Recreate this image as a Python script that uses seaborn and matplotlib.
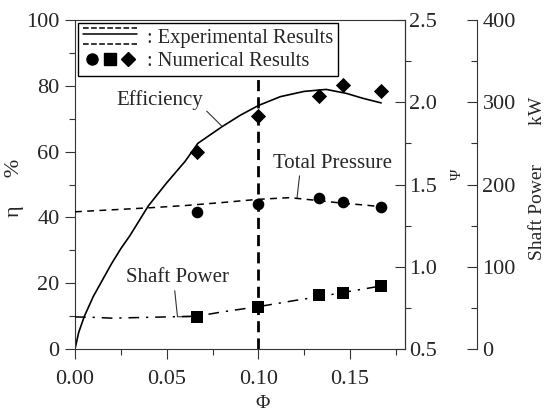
import numpy as np
import matplotlib
matplotlib.use("Agg")
import matplotlib.pyplot as plt
import seaborn as sns
from matplotlib.ticker import MultipleLocator, FormatStrFormatter
from matplotlib.legend_handler import HandlerBase, HandlerTuple
from matplotlib.lines import Line2D

# Experimental curves
phi_eff = [0.000, 0.002, 0.005, 0.010, 0.015, 0.020, 0.025, 0.030, 0.040, 0.050,
           0.060, 0.067, 0.080, 0.090, 0.100, 0.112, 0.125, 0.137, 0.148, 0.157, 0.167]
eff_exp = [0.0, 5.0, 9.8, 16.0, 21.0, 26.0, 30.5, 34.5, 43.5, 50.5,
           57.0, 62.5, 67.5, 71.0, 74.0, 76.7, 78.3, 78.9, 77.7, 76.2, 74.8]

phi_psi = [0.000, 0.020, 0.040, 0.060, 0.080, 0.100, 0.117, 0.133, 0.146, 0.157, 0.168]
psi_exp = [1.334, 1.346, 1.358, 1.372, 1.390, 1.410, 1.420, 1.402, 1.386, 1.376, 1.364]

phi_pow = [0.000, 0.010, 0.020, 0.030, 0.050, 0.067, 0.080, 0.100, 0.120, 0.133, 0.147, 0.168]
pow_exp = [39.0, 38.5, 37.5, 38.0, 39.0, 40.0, 45.0, 51.5, 59.0, 63.5, 69.0, 77.0]

# Numerical results
phi_num = [0.0667, 0.1000, 0.1333, 0.1460, 0.1667]
eff_num = [60.0, 70.8, 76.9, 80.2, 78.5]
psi_num = [1.334, 1.382, 1.420, 1.396, 1.365]
pow_num = [39.0, 51.5, 66.0, 68.5, 76.5]

design_phi = 0.10

sns.set_style("ticks")
plt.rcParams['font.family'] = ['Liberation Serif', 'DejaVu Serif']
plt.rcParams['axes.linewidth'] = 0.8


class LineStack:
    def __init__(self, lines):
        self.lines = lines


class StackedLines(HandlerBase):
    # draws the three experimental line styles stacked in one legend slot
    def create_artists(self, legend, orig_handle, xdescent, ydescent,
                       width, height, fontsize, trans):
        arts = []
        fracs = [1.0, 0.6, -0.1]
        for ln, f in zip(orig_handle.lines, fracs):
            y = -ydescent + height * f
            a = Line2D([-xdescent, -xdescent + width], [y, y],
                       color=ln.get_color(), lw=ln.get_linewidth(),
                       linestyle=ln.get_linestyle())
            a.set_transform(trans)
            arts.append(a)
        return arts


fig = plt.figure(figsize=(5.46, 4.17), dpi=100)
ax = fig.add_axes([75 / 546, 68 / 417, 330 / 546, 329 / 417])
ax2 = ax.twinx()
ax3 = ax.twinx()
ax3.spines['right'].set_position(('axes', 1.218))
for a in (ax2, ax3):
    for s in ('left', 'top', 'bottom'):
        a.spines[s].set_visible(False)
ax3.spines['right'].set_visible(True)

# experimental curves
sns.lineplot(x=phi_eff, y=eff_exp, ax=ax, color='black', lw=1.2, linestyle='-')
sns.lineplot(x=phi_psi, y=psi_exp, ax=ax2, color='black', lw=1.1,
             linestyle=(0, (4.5, 3.5)))
sns.lineplot(x=phi_pow, y=pow_exp, ax=ax3, color='black', lw=1.1,
             linestyle=(0, (7, 4.5, 1.5, 4.5)))

# numerical points
sns.scatterplot(x=phi_num, y=eff_num, ax=ax, marker='D', s=60, color='black',
                linewidth=0, zorder=5)
sns.scatterplot(x=phi_num, y=psi_num, ax=ax2, marker='o', s=70, color='black',
                linewidth=0, zorder=5)
sns.scatterplot(x=phi_num, y=pow_num, ax=ax3, marker='s', s=75, color='black',
                linewidth=0, zorder=5)

ax.axvline(design_phi, ymin=0, ymax=0.83, color='black', lw=2.0,
           linestyle=(0, (4, 2.2)))

ax.set_xlim(0, 0.18)
ax.set_ylim(0, 100)
ax2.set_ylim(0.5, 2.5)
ax3.set_ylim(0, 400)

ax.xaxis.set_major_locator(MultipleLocator(0.05))
ax.xaxis.set_minor_locator(MultipleLocator(0.025))
ax.xaxis.set_major_formatter(FormatStrFormatter('%.2f'))
ax.yaxis.set_major_locator(MultipleLocator(20))
ax.yaxis.set_minor_locator(MultipleLocator(10))
ax2.yaxis.set_major_locator(MultipleLocator(0.5))
ax2.yaxis.set_minor_locator(MultipleLocator(0.25))
ax2.yaxis.set_major_formatter(FormatStrFormatter('%.1f'))
ax3.yaxis.set_major_locator(MultipleLocator(100))
ax3.yaxis.set_minor_locator(MultipleLocator(50))

ax.tick_params(axis='both', which='major', direction='out', length=7, width=0.8,
               labelsize=16, pad=4, top=False, right=False, color='#333333')
ax.tick_params(axis='x', which='major', pad=8)
ax.tick_params(axis='both', which='minor', direction='out', length=4, width=0.8,
               top=False, right=False, color='#333333')
ax2.tick_params(axis='y', which='major', direction='in', length=7, width=0.8,
                labelsize=16, pad=3, color='#333333')
ax2.tick_params(axis='y', which='minor', direction='out', length=4, width=0.8,
                color='#333333')
ax3.tick_params(axis='y', which='major', direction='in', length=7, width=0.8,
                labelsize=16, pad=4, color='#333333')
ax3.tick_params(axis='y', which='minor', direction='in', length=4, width=0.8,
                color='#333333')
for a in (ax, ax2, ax3):
    for s in a.spines.values():
        s.set_color('#333333')
        s.set_linewidth(0.8)

ax.set_xlabel('Φ', fontsize=14)
ax.xaxis.set_label_coords(0.567, -0.14)
ax.set_ylabel('η     %', fontsize=16)
ax.yaxis.set_label_coords(-0.155, 0.49)
ax2.set_ylabel('Ψ', fontsize=11)
ax2.yaxis.set_label_coords(1.14, 0.53)
ax3.set_ylabel('Shaft Power        kW', fontsize=14)
ax3.yaxis.set_label_coords(1.375, 0.52)

arrow = dict(arrowstyle='-', lw=0.8, color='#333333', shrinkA=0, shrinkB=0)
ax.annotate('Efficiency', xy=(0.080, 67.8), xytext=(0.0464, 75.7),
            ha='center', va='center', fontsize=15,
            arrowprops=dict(arrow, relpos=(1.0, 0.1)))
ax.annotate('Total Pressure', xy=(0.1211, 45.9), xytext=(0.1402, 56.5),
            ha='center', va='center', fontsize=15,
            arrowprops=dict(arrow, relpos=(0.23, 0.0)))
ax.annotate('Shaft Power', xy=(0.0627, 9.8), xytext=(0.0559, 21.6),
            ha='center', va='center', fontsize=15,
            arrowprops=dict(arrow, relpos=(0.47, 0.0),
                            connectionstyle='angle,angleA=-84,angleB=0,rad=0'))

# legend
stack = LineStack([
    Line2D([], [], color='black', lw=1.1, linestyle=(0, (5, 3, 1.5, 3))),
    Line2D([], [], color='black', lw=1.1, linestyle='-'),
    Line2D([], [], color='black', lw=1.1, linestyle=(0, (4.5, 3.5))),
])
marks = (Line2D([], [], marker='o', ms=8, color='black', linestyle='none'),
         Line2D([], [], marker='s', ms=8.5, color='black', linestyle='none'),
         Line2D([], [], marker='D', ms=7, color='black', linestyle='none'))
leg = ax3.legend([stack, marks], [': Experimental Results', ': Numerical Results'],
                 handler_map={LineStack: StackedLines(),
                              tuple: HandlerTuple(ndivide=None, pad=0.0)},
                 loc='upper left', bbox_to_anchor=(0, 1), borderaxespad=0.15,
                 fontsize=14.8, handlelength=2.6, handletextpad=0.5,
                 labelspacing=0.2, fancybox=False, framealpha=1,
                 edgecolor='black', borderpad=0.25)
leg.get_frame().set_linewidth(1.0)

fig.savefig('out.png', dpi=100)
